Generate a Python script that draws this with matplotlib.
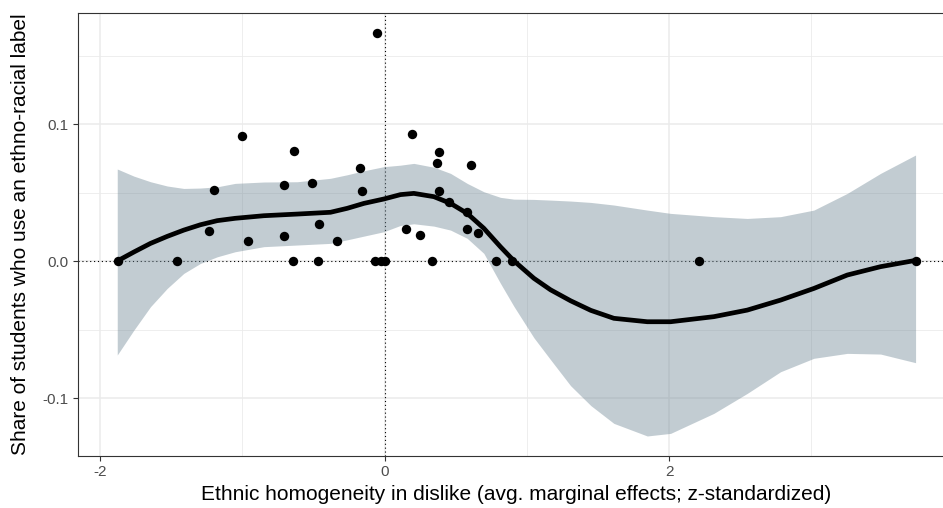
import matplotlib
matplotlib.use("Agg")
import matplotlib.pyplot as plt
from matplotlib.ticker import MultipleLocator

plt.rcParams['font.family'] = ['Liberation Sans', 'DejaVu Sans']

# class-level observations
homogeneity = [-1.873, -1.462, -1.200, -1.235, -1.000, -0.958, -0.640, -0.705,
               -0.705, -0.647, -0.511, -0.459, -0.466, -0.335, -0.171, -0.155,
               -0.054, -0.070, -0.022, 0.006, 0.195, 0.150, 0.249, 0.333,
               0.380, 0.366, 0.382, 0.452, 0.581, 0.609, 0.581, 0.659,
               0.787, 0.893, 2.214, 3.733]
share_label = [0.0, 0.0, 0.0518, 0.0217, 0.0910, 0.0144, 0.0800, 0.0557,
               0.0185, 0.0, 0.0572, 0.0272, 0.0, 0.0148, 0.0679, 0.0511,
               0.1667, 0.0, 0.0, 0.0, 0.0927, 0.0234, 0.0190, 0.0,
               0.0798, 0.0713, 0.0513, 0.0433, 0.0360, 0.0700, 0.0234, 0.0202,
               0.0, 0.0, 0.0, 0.0]

# loess fit + confidence band
smooth_x = [-1.879, -1.762, -1.645, -1.528, -1.411, -1.294, -1.176, -1.050,
            -0.848, -0.614, -0.380, -0.262, -0.145, -0.005, 0.112, 0.206,
            0.347, 0.464, 0.581, 0.698, 0.815, 0.909, 1.050, 1.167,
            1.308, 1.450, 1.612, 1.847, 2.011, 2.315, 2.550, 2.784,
            3.018, 3.253, 3.487, 3.733]
smooth_fit = [0.0000, 0.0066, 0.0129, 0.0180, 0.0226, 0.0265, 0.0295, 0.0312,
              0.0331, 0.0343, 0.0356, 0.0385, 0.0421, 0.0453, 0.0485, 0.0494,
              0.0470, 0.0421, 0.0348, 0.0239, 0.0104, 0.0002, -0.0126, -0.0210,
              -0.0290, -0.0360, -0.0418, -0.0443, -0.0443, -0.0406, -0.0358, -0.0285,
              -0.0200, -0.0102, -0.0041, 0.0005]
smooth_hi = [0.0672, 0.0620, 0.0579, 0.0548, 0.0530, 0.0533, 0.0542, 0.0567,
             0.0577, 0.0579, 0.0604, 0.0630, 0.0659, 0.0689, 0.0700, 0.0713,
             0.0685, 0.0640, 0.0567, 0.0506, 0.0465, 0.0452, 0.0450, 0.0445,
             0.0438, 0.0428, 0.0409, 0.0372, 0.0348, 0.0324, 0.0311, 0.0324,
             0.0372, 0.0494, 0.0640, 0.0774]
smooth_lo = [-0.0686, -0.0504, -0.0333, -0.0200, -0.0090, -0.0017, 0.0031, 0.0068,
             0.0105, 0.0117, 0.0129, 0.0155, 0.0182, 0.0214, 0.0260, 0.0272,
             0.0255, 0.0226, 0.0166, 0.0056, -0.0163, -0.0330, -0.0560, -0.0720,
             -0.0910, -0.1055, -0.1185, -0.1277, -0.1258, -0.1112, -0.0966, -0.0808,
             -0.0710, -0.0674, -0.0679, -0.0742]

xticks = [-2, 0, 2]
yticks = [-0.1, 0.0, 0.1]
ytick_labels = ['-0.1', '0.0', '0.1']

fig = plt.figure(figsize=(9.43, 5.08), dpi=100)
ax = fig.add_axes([0.0824, 0.1024, 0.9297, 0.8726])

ax.set_xlim(-2.157, 4.006)
ax.set_ylim(-0.1423, 0.1813)

# theme_bw-ish grid
ax.xaxis.set_minor_locator(MultipleLocator(1))
ax.yaxis.set_minor_locator(MultipleLocator(0.05))
ax.grid(True, which='major', color='#EBEBEB', lw=1.1, zorder=0)
ax.grid(True, which='minor', color='#EBEBEB', lw=0.6, zorder=0)
ax.tick_params(which='minor', length=0)
ax.set_axisbelow(True)

ax.axhline(0, color='black', lw=0.8, ls=(0, (1, 2.5)), zorder=1)
ax.axvline(0, color='black', lw=0.8, ls=(0, (1, 2.5)), zorder=1)

ax.scatter(homogeneity, share_label, s=46, color='black', zorder=3, linewidths=0)
ax.fill_between(smooth_x, smooth_lo, smooth_hi, color='#6f8795', alpha=0.42,
                lw=0, zorder=2)
ax.plot(smooth_x, smooth_fit, color='black', lw=3.4, solid_capstyle='round',
        solid_joinstyle='round', zorder=4)

ax.set_xticks(xticks)
ax.set_xticklabels([str(t) for t in xticks])
ax.set_yticks(yticks)
ax.set_yticklabels(ytick_labels)
ax.tick_params(which='major', length=3.5, width=0.8, color='#333333',
               labelcolor='#4D4D4D', labelsize=11, pad=3)

for s in ax.spines.values():
    s.set_color('#333333')
    s.set_linewidth(0.8)
# panel runs off the right edge of the picture
ax.spines['right'].set_visible(False)

ax.set_xlabel('Ethnic homogeneity in dislike (avg. marginal effects; z-standardized)',
              fontsize=15)
ax.set_ylabel('Share of students who use an ethno-racial label', fontsize=15)
ax.xaxis.set_label_coords(0.4996, -0.065)
ax.yaxis.set_label_coords(-0.054, 0.5)

fig.savefig('out.png', dpi=100)
